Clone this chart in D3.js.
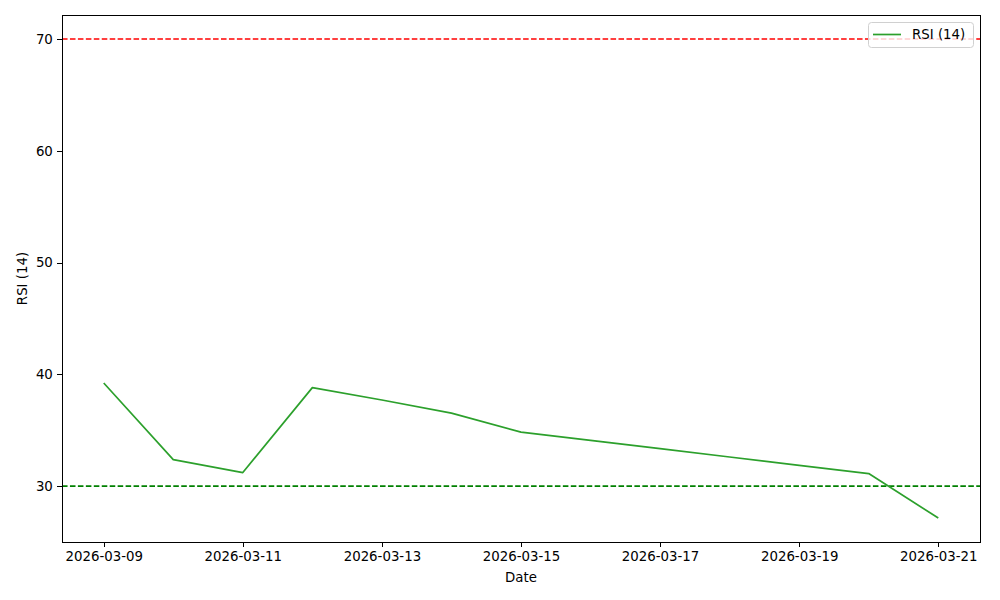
<!DOCTYPE html>
<html>
<head>
<meta charset="utf-8">
<script src="https://cdn.jsdelivr.net/npm/d3@7"></script>
<style>
  body { margin: 0; background: #fff; }
  svg { font-family: "DejaVu Sans", sans-serif; }
  .tick text { font-family: "DejaVu Sans", sans-serif; font-size: 13.33px; fill: #000; }
  .tick line { stroke: #000; stroke-width: 1; shape-rendering: crispEdges; }
  .domain { stroke: none; }
</style>
</head>
<body>
<svg id="chart" width="1000" height="600"></svg>
<script>
const dates = ["2026-03-09", "2026-03-10", "2026-03-11", "2026-03-12", "2026-03-13",
    "2026-03-14", "2026-03-15", "2026-03-16", "2026-03-17", "2026-03-18",
    "2026-03-19", "2026-03-20", "2026-03-21"];
const rsiValues = [39.22, 32.37, 31.21, 38.81, 37.70, 36.53, 34.83, 34.09, 33.35, 32.60, 31.86, 31.12, 27.14];
const xTickLabels = ["2026-03-09", "2026-03-11", "2026-03-13", "2026-03-15", "2026-03-17", "2026-03-19", "2026-03-21"];
const yTicks = [30, 40, 50, 60, 70];
const overbought = 70,
    oversold = 30;
const seriesName = "RSI (14)";

const margin = {top: 15, right: 20, bottom: 58, left: 62};
const width = 1000, height = 600;

const parse = d3.utcParse("%Y-%m-%d");
const data = dates.map((d, i) => ({date: parse(d), value: rsiValues[i]}));

const svg = d3.select("#chart");

// matplotlib-like 5% margins
const x0 = data[0].date.getTime(), x1 = data[data.length - 1].date.getTime();
const xPad = (x1 - x0) * 0.05;
const yMin = Math.min(d3.min(rsiValues), oversold), yMax = Math.max(d3.max(rsiValues), overbought);
const yPad = (yMax - yMin) * 0.05;

const x = d3.scaleUtc()
    .domain([new Date(x0 - xPad), new Date(x1 + xPad)])
    .range([margin.left, width - margin.right]);
const y = d3.scaleLinear()
    .domain([yMin - yPad, yMax + yPad])
    .range([height - margin.bottom, margin.top]);

const xAxis = d3.axisBottom(x)
    .tickValues(xTickLabels.map(parse))
    .tickFormat(d3.utcFormat("%Y-%m-%d"))
    .tickSizeInner(4.67)
    .tickPadding(4.5);
svg.append("g")
    .attr("transform", `translate(0,${height - margin.bottom})`)
    .call(xAxis);

const yAxis = d3.axisLeft(y)
    .tickValues(yTicks)
    .tickSizeInner(4.67)
    .tickPadding(4.5);
svg.append("g")
    .attr("transform", `translate(${margin.left},0)`)
    .call(yAxis);

const plotW = width - margin.left - margin.right;
const plotH = height - margin.top - margin.bottom;

// reference lines
svg.append("line")
    .attr("x1", margin.left).attr("x2", width - margin.right)
    .attr("y1", y(overbought)).attr("y2", y(overbought))
    .attr("stroke", "#ff0000").attr("stroke-width", 1.6)
    .attr("stroke-dasharray", "5.55,2.4");
svg.append("line")
    .attr("x1", margin.left).attr("x2", width - margin.right)
    .attr("y1", y(oversold)).attr("y2", y(oversold))
    .attr("stroke", "#008000").attr("stroke-width", 1.6)
    .attr("stroke-dasharray", "5.55,2.4");

const line = d3.line()
    .x(d => x(d.date))
    .y(d => y(d.value));

svg.append("path")
    .datum(data)
    .attr("fill", "none")
    .attr("stroke", "#2ca02c")
    .attr("stroke-width", 1.7)
    .attr("stroke-linejoin", "round")
    .attr("d", line);

// frame, snapped to whole pixels
svg.append("rect")
    .attr("x", margin.left + 0.5).attr("y", margin.top + 0.5)
    .attr("width", plotW - 0.5).attr("height", plotH - 0.5)
    .attr("fill", "none").attr("stroke", "#000").attr("stroke-width", 1)
    .attr("shape-rendering", "crispEdges");

// legend
const legend = svg.append("g").attr("transform", `translate(${width - margin.right - 112},${margin.top + 7})`);
legend.append("rect")
    .attr("x", 0.5).attr("y", 0.5)
    .attr("width", 105).attr("height", 25)
    .attr("rx", 3)
    .attr("fill", "#fff").attr("fill-opacity", 0.8)
    .attr("stroke", "#d0d0d0").attr("stroke-width", 1);
legend.append("line")
    .attr("x1", 5).attr("x2", 33)
    .attr("y1", 12.5).attr("y2", 12.5)
    .attr("stroke", "#2ca02c").attr("stroke-width", 1.7);
legend.append("text")
    .attr("x", 44).attr("y", 17)
    .attr("font-size", 13.33)
    .text(seriesName);

// axis labels
svg.append("text")
    .attr("x", margin.left + plotW / 2)
    .attr("y", 582)
    .attr("text-anchor", "middle")
    .attr("font-size", 13.33)
    .text("Date");
svg.append("text")
    .attr("transform", `translate(27,${margin.top + plotH / 2}) rotate(-90)`)
    .attr("text-anchor", "middle")
    .attr("font-size", 13.33)
    .text(seriesName);
</script>
</body>
</html>
